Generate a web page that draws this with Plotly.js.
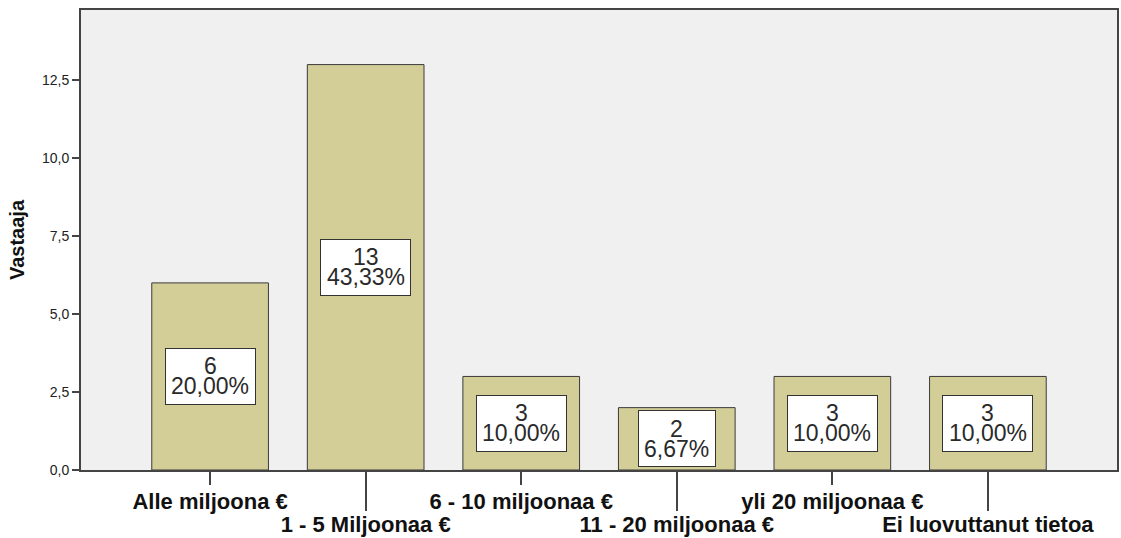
<!DOCTYPE html>
<html><head><meta charset="utf-8">
<script src="https://cdn.plot.ly/plotly-3.0.1.min.js"></script>
<style>body{margin:0;background:#fff}#chart{width:1121px;height:538px}</style>
</head><body><div id="chart"></div>
<script>
const categories = ["Alle miljoona €", "1 - 5 Miljoonaa €", "6 - 10 miljoonaa €", "11 - 20 miljoonaa €", "yli 20 miljoonaa €", "Ei luovuttanut tietoa"];
const counts = [6, 13, 3, 2, 3, 3];
const percents = ["20,00%", "43,33%", "10,00%", "6,67%", "10,00%", "10,00%"];
const yTicks = [0, 2.5, 5, 7.5, 10, 12.5];

const FONT = 'Liberation Sans, Arial, sans-serif';
const LABEL_SIZE = 23;
const ctx = document.createElement('canvas').getContext('2d');
ctx.font = LABEL_SIZE + 'px "Liberation Sans", Arial, sans-serif';
const textW = s => Math.ceil(ctx.measureText(s).width);

const xIdx = categories.map((c, i) => i);
const evenIdx = xIdx.filter(i => i % 2 === 0);
const oddIdx = xIdx.filter(i => i % 2 === 1);
const trace = {
  type: 'bar', x: xIdx, y: counts, width: 0.75,
  marker: {color: '#d3ce98', line: {color: '#3a3a3a', width: 1}},
  hoverinfo: 'skip'
};
const ghost = {
  type: 'scatter', mode: 'markers', xaxis: 'x2', yaxis: 'y',
  x: oddIdx, y: oddIdx.map(i => counts[i]),
  marker: {opacity: 0}, hoverinfo: 'skip', showlegend: false
};
const annotations = [];
counts.forEach((v, i) => {
  annotations.push({
    x: i, y: v / 2, xref: 'x', yref: 'y', showarrow: false,
    text: ' ', width: Math.max(textW(percents[i]), textW(String(v))) + 4, height: 49,
    bgcolor: '#ffffff', bordercolor: '#333', borderwidth: 1, borderpad: 3,
    yanchor: 'middle', xanchor: 'center'
  });
  annotations.push({
    x: i, y: v / 2, xref: 'x', yref: 'y', showarrow: false, yshift: 10,
    text: String(v), font: {family: FONT, size: LABEL_SIZE, color: '#2a2a2a'},
    yanchor: 'middle', xanchor: 'center'
  });
  annotations.push({
    x: i, y: v / 2, xref: 'x', yref: 'y', showarrow: false, yshift: -10,
    text: percents[i], font: {family: FONT, size: LABEL_SIZE, color: '#2a2a2a'},
    yanchor: 'middle', xanchor: 'center'
  });
});
const xRange = [-0.83, 5.83];
const tickFont = {size: 22, color: '#111', family: FONT, weight: 'bold'};
const layout = {
  width: 1121, height: 538,
  margin: {l: 81, r: 4, t: 10, b: 68},
  paper_bgcolor: '#ffffff', plot_bgcolor: '#f0f0f0',
  separators: ',.',
  showlegend: false,
  font: {family: FONT, color: '#222'},
  xaxis: {
    type: 'linear', range: xRange,
    tickvals: evenIdx, ticktext: evenIdx.map(i => categories[i]),
    tickangle: 0, ticklabelstandoff: -2,
    ticks: 'outside', ticklen: 13, tickwidth: 2, tickcolor: '#444',
    tickfont: tickFont,
    showline: true, linecolor: '#444', linewidth: 2, mirror: true,
    showgrid: false, zeroline: false
  },
  xaxis2: {
    type: 'linear', range: xRange, overlaying: 'x', anchor: 'y', side: 'bottom',
    tickvals: oddIdx, ticktext: oddIdx.map(i => categories[i]),
    tickangle: 0, ticklabelstandoff: -5,
    ticks: 'outside', ticklen: 40, tickwidth: 2, tickcolor: '#444',
    tickfont: tickFont,
    showline: false, showgrid: false, zeroline: false
  },
  yaxis: {
    range: [0, 14.75], tickvals: yTicks, tickformat: '.1f',
    ticks: 'outside', ticklen: 7, tickwidth: 2, tickcolor: '#444',
    tickfont: {size: 14, color: '#222'},
    showline: true, linecolor: '#444', linewidth: 2, mirror: true,
    showgrid: false, zeroline: false,
    title: {text: '<b>Vastaaja</b>', font: {size: 20, color: '#111'}, standoff: 12}
  },
  annotations: annotations
};
Plotly.newPlot('chart', [trace, ghost], layout, {displayModeBar: false, staticPlot: true});
</script></body></html>
